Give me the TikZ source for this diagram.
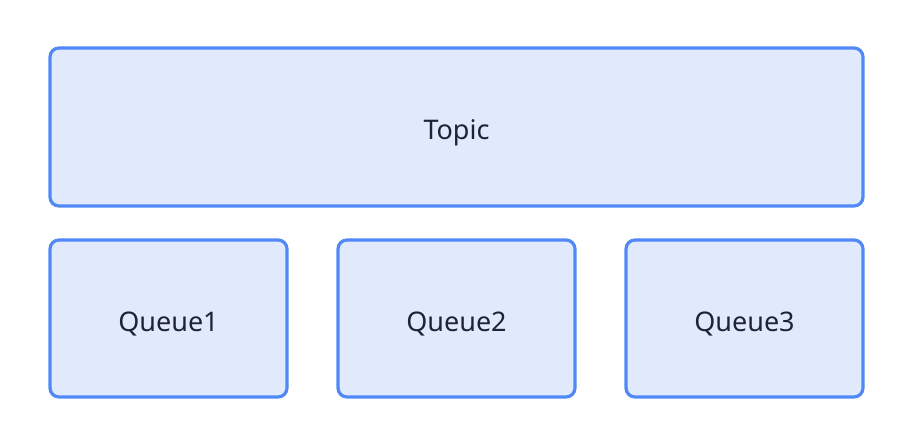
\documentclass[tikz,border=0pt]{standalone}
\usepackage{fontspec}
\setmainfont{Noto Sans}
\definecolor{boxline}{HTML}{5088F6}
\definecolor{boxfill}{HTML}{E1EAFD}
\definecolor{txt}{HTML}{1F2433}
\begin{document}
\begin{tikzpicture}[x=1pt,y=-1pt,
  box/.style={draw=boxline,fill=boxfill,line width=3.2pt,rounded corners=9pt,inner sep=0pt},
  lbl/.style={text=txt,font=\fontsize{27}{32}\selectfont,inner sep=0pt}]
\useasboundingbox (0,0) rectangle (912,446);
\node[box,minimum width=813pt,minimum height=158pt] (topic) at (456.5,127) {};
\node[box,minimum width=237pt,minimum height=157pt] (q1) at (168.5,318.5) {};
\node[box,minimum width=237pt,minimum height=157pt] (q2) at (456.5,318.5) {};
\node[box,minimum width=237pt,minimum height=157pt] (q3) at (744.5,318.5) {};
\node[lbl,yshift=-6pt] (topict) at (topic) {Topic};
\node[lbl,yshift=-6pt] (q1t) at (q1) {Queue1};
\node[lbl,yshift=-6pt] (q2t) at (q2) {Queue2};
\node[lbl,yshift=-6pt] (q3t) at (q3) {Queue3};
\end{tikzpicture}
\end{document}
